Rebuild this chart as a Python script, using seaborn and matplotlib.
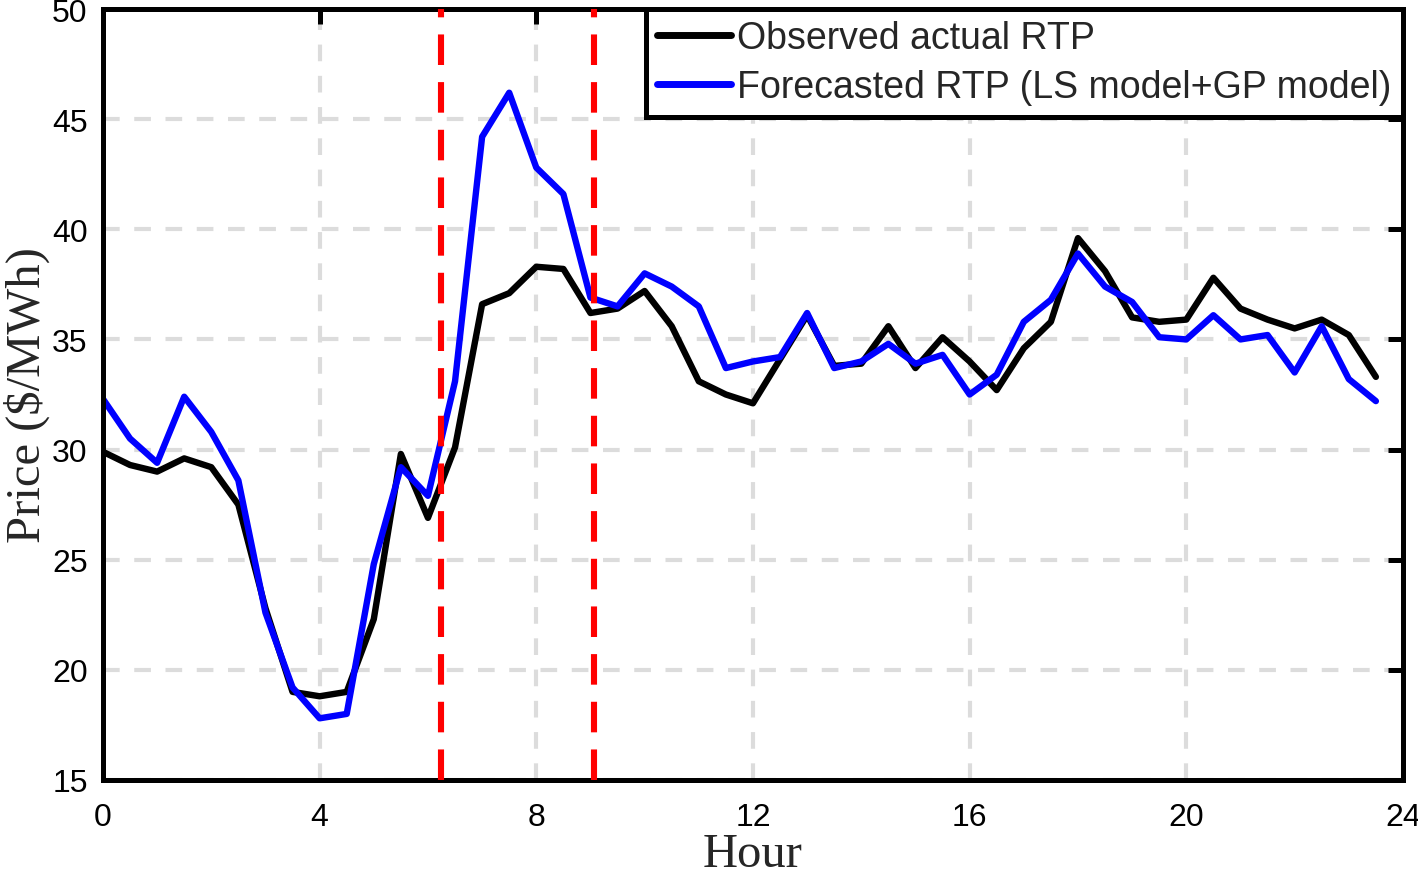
import matplotlib
matplotlib.use('Agg')
import matplotlib.pyplot as plt
import seaborn as sns
import pandas as pd

# half-hour time steps over one day
hours = [0.0, 0.5, 1.0, 1.5, 2.0, 2.5, 3.0, 3.5, 4.0, 4.5, 5.0, 5.5,
         6.0, 6.5, 7.0, 7.5, 8.0, 8.5, 9.0, 9.5, 10.0, 10.5, 11.0, 11.5,
         12.0, 12.5, 13.0, 13.5, 14.0, 14.5, 15.0, 15.5, 16.0, 16.5, 17.0, 17.5,
         18.0, 18.5, 19.0, 19.5, 20.0, 20.5, 21.0, 21.5, 22.0, 22.5, 23.0, 23.5]

observed = [29.9, 29.3, 29.0, 29.6, 29.2, 27.5, 22.8, 19.0, 18.8, 19.0, 22.3, 29.8,
            26.9, 30.1, 36.6, 37.1, 38.3, 38.2, 36.2, 36.4, 37.2, 35.6, 33.1, 32.5,
            32.1, 34.1, 36.1, 33.8, 33.9, 35.6, 33.7, 35.1, 34.0, 32.7, 34.6, 35.8,
            39.6, 38.1, 36.0, 35.8, 35.9, 37.8, 36.4, 35.9, 35.5, 35.9, 35.2, 33.3]

forecast = [32.3, 30.5, 29.4, 32.4, 30.8, 28.6, 22.6, 19.2, 17.8, 18.0, 24.8, 29.2,
            27.9, 33.1, 44.2, 46.2, 42.8, 41.6, 36.9, 36.5, 38.0, 37.4, 36.5, 33.7,
            34.0, 34.2, 36.2, 33.7, 34.0, 34.8, 33.9, 34.3, 32.5, 33.4, 35.8, 36.8,
            38.9, 37.4, 36.7, 35.1, 35.0, 36.1, 35.0, 35.2, 33.5, 35.6, 33.2, 32.2]

# window marked by the red dashed lines
window = [6.25, 9.07]

labels = ['Observed actual RTP', 'Forecasted RTP (LS model+GP model)']

sns.set_style('white')
plt.rcParams['font.family'] = ['Liberation Sans', 'DejaVu Sans']

df = pd.DataFrame({'Hour': hours, labels[0]: observed, labels[1]: forecast})

fig = plt.figure(figsize=(14.18, 8.79), dpi=100)
ax = fig.add_axes([0.0726, 0.1115, 0.9168, 0.8771])

ax.grid(True, color='#dcdcdc', linestyle=(0, (4, 3.5)), linewidth=3.0)
ax.set_axisbelow(True)

sns.lineplot(data=df, x='Hour', y=labels[0], color='black', linewidth=4.6,
             label=labels[0], ax=ax)
sns.lineplot(data=df, x='Hour', y=labels[1], color='#0000ff', linewidth=4.6,
             label=labels[1], ax=ax)

for w in window:
    ax.axvline(w, color='#ff0000', linestyle=(0, (5, 2.8)), linewidth=4.4, zorder=3)

ax.set_xlim(0, 24)
ax.set_ylim(15, 50)
ax.set_xticks([0, 4, 8, 12, 16, 20, 24])
ax.set_yticks([15, 20, 25, 30, 35, 40, 45, 50])

for s in ax.spines.values():
    s.set_color('black')
    s.set_linewidth(3.6)
ax.tick_params(direction='in', length=11, width=3.6, top=True, right=True,
               labelsize=23, pad=11, colors='black')
ax.tick_params(axis='x', pad=16)

ax.set_xlabel('Hour', family='Liberation Serif', fontsize=35, labelpad=0)
ax.set_ylabel('Price ($/MWh)', family='Liberation Serif', fontsize=35)
ax.yaxis.set_label_coords(-0.041, 0.5)

leg = ax.legend(loc='upper right', fontsize=27, frameon=True, fancybox=False,
                framealpha=1, handlelength=1.95, handletextpad=0.18,
                borderaxespad=0, borderpad=0.3, labelspacing=0.35)
leg.get_frame().set_edgecolor('black')
leg.get_frame().set_linewidth(3.6)
for h in leg.get_lines():
    h.set_linewidth(5.0)

fig.savefig('out.png', dpi=100)
plt.close(fig)
